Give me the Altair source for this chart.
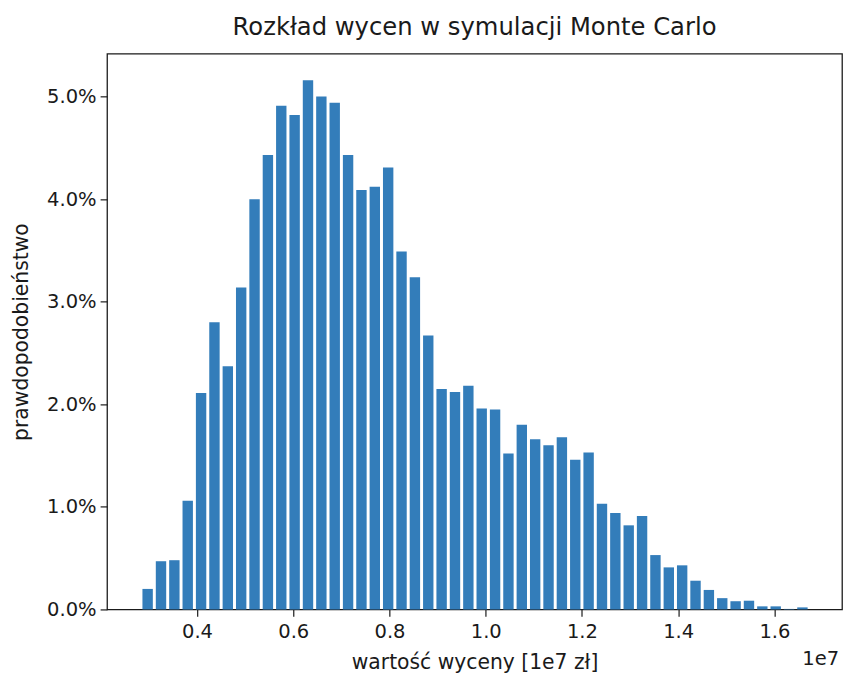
import altair as alt
import pandas as pd
import numpy as np

# Histogram of Monte Carlo valuations (x in units of 1e7 zł)
bin_min = 0.2825
bin_max = 1.671
n_bins = 50
pct = [0.20, 0.47, 0.48, 1.06, 2.11, 2.80, 2.37, 3.14, 4.00, 4.43,
       4.91, 4.82, 5.16, 5.00, 4.94, 4.43, 4.09, 4.12, 4.31, 3.49,
       3.24, 2.67, 2.15, 2.12, 2.18, 1.96, 1.95, 1.52, 1.80, 1.66,
       1.60, 1.68, 1.46, 1.53, 1.03, 0.94, 0.82, 0.91, 0.53, 0.41,
       0.43, 0.28, 0.19, 0.11, 0.08, 0.085, 0.03, 0.03, 0.005, 0.02]
x_ticks = [0.4, 0.6, 0.8, 1.0, 1.2, 1.4, 1.6]
y_ticks = [0.0, 0.01, 0.02, 0.03, 0.04, 0.05]

edges = np.linspace(bin_min, bin_max, n_bins + 1)
df = pd.DataFrame({"lo": edges[:-1], "hi": edges[1:], "p": [v / 100 for v in pct]})

margin = (bin_max - bin_min) * 0.05
x_dom = [bin_min - margin, bin_max + margin]
y_dom = [0, max(pct) / 100 * 1.05]

FONT = "DejaVu Sans"
TXT = "#1a1a1a"
W, H = 742, 561

bars = alt.Chart(df).mark_bar(color="#337dba", binSpacing=3, opacity=1).encode(
    x=alt.X("lo:Q", bin="binned",
            scale=alt.Scale(domain=x_dom, nice=False, zero=False),
            axis=alt.Axis(values=x_ticks, format=".1f", title="wartość wyceny [1e7 zł]",
                          labelPadding=5, titlePadding=12, grid=False)),
    x2="hi:Q",
    y=alt.Y("p:Q", scale=alt.Scale(domain=y_dom, nice=False),
            axis=alt.Axis(values=y_ticks, format=".1%", title="prawdopodobieństwo",
                          labelPadding=4, titlePadding=15, grid=False)),
)

offset_txt = alt.Chart(df).mark_text(text="1e7", align="right", baseline="middle",
                                     font=FONT, fontSize=19.7, color=TXT).encode(
    x=alt.value(W - 3), y=alt.value(H + 50)
).transform_filter("datum.lo == " + repr(float(edges[0])))

chart = alt.layer(bars, offset_txt).properties(
    width=W, height=H,
    background="white",
    title=alt.TitleParams("Rozkład wycen w symulacji Monte Carlo", font=FONT, fontSize=24.5,
                          fontWeight="normal", color=TXT, offset=13, anchor="middle"),
    autosize=alt.AutoSizeParams(type="none"),
    padding={"left": 100, "top": 43, "right": 2, "bottom": 62},
).configure_view(stroke=TXT, strokeWidth=1.3).configure_axis(
    domain=False, ticks=True, tickColor=TXT, tickSize=7, tickWidth=1.2,
    labelFont=FONT, labelFontSize=19.7, labelColor=TXT,
    titleFont=FONT, titleFontSize=20.5, titleColor=TXT, titleFontWeight="normal",
)

chart.save("out.html", embed_options={"renderer": "svg", "actions": False})
